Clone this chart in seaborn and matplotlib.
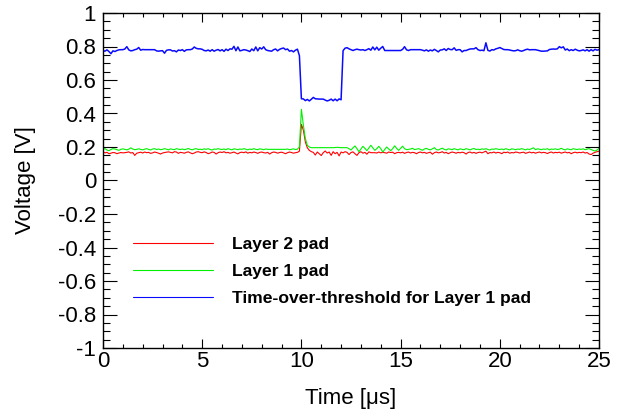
import numpy as np
import pandas as pd
import matplotlib
matplotlib.use("Agg")
import matplotlib.pyplot as plt
import seaborn as sns
from matplotlib.ticker import MultipleLocator, FuncFormatter

# Sample times [us], 0.1 us step
time_us = np.round(np.arange(251) * 0.1, 1)

# Layer 2 pad signal [V]
layer2 = [
    0.170, 0.165, 0.168, 0.160, 0.163, 0.167, 0.166, 0.160, 0.164, 0.167,
    0.165, 0.166, 0.168, 0.171, 0.164, 0.167, 0.150, 0.163, 0.166, 0.169,
    0.164, 0.170, 0.166, 0.168, 0.162, 0.165, 0.170, 0.167, 0.163, 0.158,
    0.164, 0.167, 0.169, 0.171, 0.168, 0.165, 0.172, 0.170, 0.162, 0.168,
    0.166, 0.163, 0.168, 0.171, 0.165, 0.160, 0.164, 0.170, 0.172, 0.168,
    0.166, 0.171, 0.167, 0.160, 0.164, 0.170, 0.168, 0.158, 0.166, 0.170,
    0.167, 0.172, 0.165, 0.168, 0.163, 0.166, 0.170, 0.164, 0.159, 0.167,
    0.169, 0.166, 0.171, 0.163, 0.168, 0.165, 0.170, 0.167, 0.162, 0.168,
    0.170, 0.166, 0.164, 0.168, 0.158, 0.166, 0.170, 0.168, 0.163, 0.167,
    0.169, 0.165, 0.160, 0.166, 0.170, 0.167, 0.163, 0.166, 0.168, 0.175,
    0.335, 0.300, 0.230, 0.195, 0.180, 0.172, 0.168, 0.152, 0.170, 0.160,
    0.149, 0.166, 0.176, 0.164, 0.170, 0.150, 0.172, 0.160, 0.168, 0.147,
    0.170, 0.165, 0.172, 0.168, 0.155, 0.167, 0.171, 0.160, 0.150, 0.166,
    0.172, 0.163, 0.168, 0.157, 0.171, 0.166, 0.166, 0.166, 0.164, 0.170,
    0.165, 0.168, 0.166, 0.163, 0.170, 0.167, 0.169, 0.160, 0.166, 0.168,
    0.165, 0.169, 0.162, 0.167, 0.170, 0.164, 0.168, 0.166, 0.160, 0.167,
    0.170, 0.165, 0.168, 0.162, 0.166, 0.169, 0.157, 0.166, 0.170, 0.165,
    0.167, 0.172, 0.164, 0.168, 0.160, 0.166, 0.170, 0.167, 0.163, 0.168,
    0.165, 0.169, 0.166, 0.158, 0.167, 0.170, 0.164, 0.168, 0.162, 0.167,
    0.169, 0.165, 0.170, 0.175, 0.160, 0.167, 0.165, 0.170, 0.164, 0.168,
    0.166, 0.160, 0.169, 0.166, 0.170, 0.163, 0.167, 0.165, 0.170, 0.168,
    0.164, 0.167, 0.169, 0.162, 0.166, 0.170, 0.165, 0.168, 0.163, 0.167,
    0.170, 0.165, 0.168, 0.166, 0.161, 0.167, 0.170, 0.164, 0.168, 0.166,
    0.169, 0.163, 0.167, 0.170, 0.165, 0.168, 0.160, 0.166, 0.169, 0.165,
    0.168, 0.166, 0.170, 0.164, 0.167, 0.158, 0.155, 0.163, 0.168, 0.172,
    0.175,
]

# Layer 1 pad signal [V]
layer1 = [
    0.186, 0.190, 0.182, 0.178, 0.185, 0.190, 0.188, 0.184, 0.180, 0.186,
    0.189, 0.186, 0.183, 0.187, 0.195, 0.188, 0.184, 0.186, 0.189, 0.186,
    0.183, 0.187, 0.190, 0.186, 0.182, 0.188, 0.190, 0.185, 0.188, 0.184,
    0.186, 0.190, 0.187, 0.183, 0.189, 0.186, 0.184, 0.190, 0.187, 0.185,
    0.188, 0.184, 0.187, 0.191, 0.186, 0.183, 0.188, 0.190, 0.185, 0.187,
    0.184, 0.189, 0.186, 0.190, 0.185, 0.182, 0.188, 0.186, 0.190, 0.187,
    0.185, 0.188, 0.184, 0.190, 0.186, 0.183, 0.189, 0.187, 0.184, 0.188,
    0.186, 0.190, 0.187, 0.183, 0.188, 0.185, 0.190, 0.186, 0.184, 0.189,
    0.187, 0.184, 0.188, 0.186, 0.186, 0.186, 0.186, 0.186, 0.186, 0.186,
    0.186, 0.186, 0.186, 0.188, 0.184, 0.186, 0.189, 0.185, 0.187, 0.200,
    0.425, 0.330, 0.250, 0.210, 0.200, 0.196, 0.196, 0.196, 0.196, 0.196,
    0.196, 0.196, 0.196, 0.196, 0.196, 0.196, 0.196, 0.197, 0.198, 0.197,
    0.196, 0.196, 0.196, 0.196, 0.190, 0.182, 0.195, 0.206, 0.190, 0.172,
    0.188, 0.204, 0.192, 0.178, 0.194, 0.210, 0.195, 0.180, 0.190, 0.204,
    0.190, 0.170, 0.185, 0.200, 0.188, 0.178, 0.190, 0.207, 0.192, 0.180,
    0.192, 0.205, 0.190, 0.184, 0.186, 0.188, 0.192, 0.185, 0.187, 0.190,
    0.186, 0.180, 0.188, 0.192, 0.186, 0.183, 0.189, 0.196, 0.185, 0.182,
    0.188, 0.193, 0.186, 0.182, 0.189, 0.187, 0.184, 0.190, 0.186, 0.183,
    0.189, 0.186, 0.184, 0.190, 0.187, 0.183, 0.188, 0.191, 0.185, 0.187,
    0.184, 0.189, 0.186, 0.190, 0.185, 0.182, 0.188, 0.186, 0.190, 0.187,
    0.185, 0.188, 0.184, 0.190, 0.186, 0.183, 0.189, 0.187, 0.184, 0.188,
    0.186, 0.190, 0.187, 0.183, 0.188, 0.185, 0.190, 0.195, 0.184, 0.189,
    0.187, 0.184, 0.188, 0.186, 0.190, 0.183, 0.188, 0.186, 0.189, 0.185,
    0.187, 0.192, 0.186, 0.183, 0.189, 0.186, 0.184, 0.190, 0.187, 0.185,
    0.188, 0.186, 0.189, 0.184, 0.187, 0.190, 0.185, 0.180, 0.176, 0.182,
    0.192,
]

# Time-over-threshold output for the Layer 1 pad [V]
tot_layer1 = [
    0.776, 0.772, 0.780, 0.770, 0.757, 0.774, 0.770, 0.776, 0.780, 0.781,
    0.781, 0.785, 0.799, 0.780, 0.774, 0.776, 0.781, 0.784, 0.794, 0.778,
    0.782, 0.781, 0.781, 0.781, 0.781, 0.781, 0.781, 0.774, 0.772, 0.774,
    0.775, 0.760, 0.777, 0.780, 0.780, 0.773, 0.775, 0.768, 0.779, 0.776,
    0.781, 0.771, 0.780, 0.781, 0.781, 0.785, 0.797, 0.789, 0.786, 0.786,
    0.783, 0.776, 0.774, 0.779, 0.772, 0.781, 0.772, 0.778, 0.782, 0.774,
    0.781, 0.771, 0.784, 0.776, 0.786, 0.784, 0.801, 0.775, 0.797, 0.774,
    0.777, 0.781, 0.779, 0.775, 0.770, 0.785, 0.775, 0.797, 0.774, 0.793,
    0.785, 0.798, 0.781, 0.776, 0.774, 0.772, 0.781, 0.785, 0.774, 0.783,
    0.788, 0.791, 0.781, 0.785, 0.772, 0.776, 0.768, 0.778, 0.784, 0.745,
    0.488, 0.487, 0.477, 0.484, 0.475, 0.485, 0.496, 0.488, 0.487, 0.486,
    0.486, 0.486, 0.480, 0.475, 0.479, 0.486, 0.476, 0.486, 0.476, 0.487,
    0.482, 0.775, 0.790, 0.793, 0.786, 0.781, 0.776, 0.781, 0.784, 0.781,
    0.779, 0.781, 0.776, 0.781, 0.787, 0.778, 0.797, 0.780, 0.796, 0.778,
    0.790, 0.800, 0.776, 0.776, 0.776, 0.776, 0.776, 0.776, 0.776, 0.776,
    0.776, 0.783, 0.799, 0.780, 0.776, 0.781, 0.781, 0.781, 0.781, 0.781,
    0.781, 0.778, 0.774, 0.780, 0.772, 0.779, 0.774, 0.783, 0.776, 0.768,
    0.779, 0.780, 0.786, 0.776, 0.788, 0.782, 0.781, 0.792, 0.777, 0.781,
    0.781, 0.768, 0.776, 0.776, 0.781, 0.785, 0.786, 0.786, 0.793, 0.781,
    0.776, 0.778, 0.775, 0.822, 0.777, 0.773, 0.781, 0.779, 0.786, 0.789,
    0.794, 0.788, 0.782, 0.781, 0.781, 0.779, 0.776, 0.774, 0.775, 0.780,
    0.775, 0.772, 0.776, 0.781, 0.784, 0.780, 0.781, 0.781, 0.781, 0.778,
    0.775, 0.772, 0.772, 0.773, 0.774, 0.782, 0.784, 0.785, 0.784, 0.786,
    0.799, 0.792, 0.798, 0.779, 0.785, 0.775, 0.781, 0.776, 0.784, 0.778,
    0.774, 0.776, 0.780, 0.774, 0.781, 0.772, 0.781, 0.774, 0.783, 0.778,
    0.781,
]

series_names = ["Layer 2 pad", "Layer 1 pad", "Time-over-threshold for Layer 1 pad"]
series_colors = ["#ff0000", "#00f000", "#0a0aff"]
series_widths = [0.8, 0.8, 1.1]

sns.set_style("ticks")
plt.rcParams["font.family"] = ["Liberation Sans", "DejaVu Sans"]
plt.rcParams["axes.unicode_minus"] = False
plt.rcParams["text.color"] = "black"
plt.rcParams["axes.labelcolor"] = "black"
plt.rcParams["xtick.color"] = "black"
plt.rcParams["ytick.color"] = "black"

df = pd.DataFrame({
    "time": np.concatenate([time_us] * 3),
    "voltage": np.concatenate([layer2, layer1, tot_layer1]),
    "series": np.repeat(series_names, len(time_us)),
})

fig = plt.figure(figsize=(6.29, 4.18), dpi=100)
ax = fig.add_axes([103 / 629, 70 / 418, 496 / 629, 335 / 418])

for name, color, lw in zip(series_names, series_colors, series_widths):
    sns.lineplot(data=df[df["series"] == name], x="time", y="voltage",
                 color=color, linewidth=lw, label=name, ax=ax,
                 estimator=None, sort=False)

ax.set_xlim(0, 25)
ax.set_ylim(-1, 1)
ax.xaxis.set_major_locator(MultipleLocator(5))
ax.xaxis.set_minor_locator(MultipleLocator(1))
ax.yaxis.set_major_locator(MultipleLocator(0.2))
ax.yaxis.set_minor_locator(MultipleLocator(0.05))
fmt = FuncFormatter(lambda v, pos: f"{v:g}" if abs(v) > 1e-9 else "0")
ax.xaxis.set_major_formatter(fmt)
ax.yaxis.set_major_formatter(fmt)

ax.tick_params(axis="both", which="both", direction="in", top=True, right=True,
               colors="black", labelcolor="black", width=0.8, labelsize=16)
ax.tick_params(axis="x", which="major", length=6.5, pad=2)
ax.tick_params(axis="x", which="minor", length=3.2)
ax.tick_params(axis="y", which="major", length=10, pad=5)
ax.tick_params(axis="y", which="minor", length=5)
for sp in ax.spines.values():
    sp.set_linewidth(1.0)
    sp.set_color("black")

ax.set_xlabel("Time [μs]", fontsize=16, color="black")
ax.set_ylabel("Voltage [V]", fontsize=16, color="black")
ax.xaxis.set_label_coords(0.5, -0.12)
ax.yaxis.set_label_coords(-0.135, 0.5)

leg = ax.legend(loc="center left", bbox_to_anchor=(0.06, 0.228), frameon=False,
                borderpad=0, borderaxespad=0, handlelength=4.6, handletextpad=1.05,
                labelspacing=0.68, prop={"weight": "bold", "size": 12.6})
for text in leg.get_texts():
    text.set_color("black")
for line in leg.get_lines():
    line.set_linewidth(0.8)

fig.savefig("out.png", dpi=100)
